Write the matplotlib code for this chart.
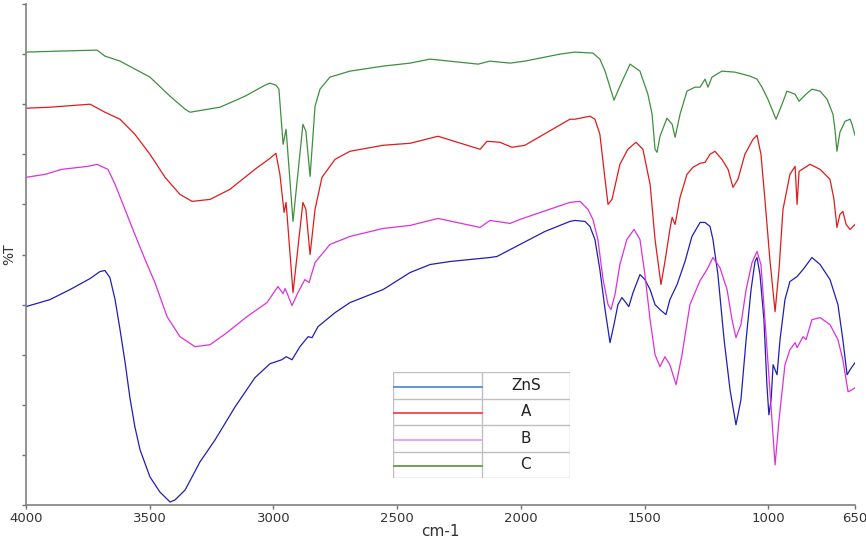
import matplotlib
matplotlib.use("Agg")
import matplotlib.pyplot as plt
import numpy as np

# Datos (numero de onda cm-1, %T)
wn_c = [4000, 3863, 3713, 3681, 3620, 3499, 3418, 3357, 3337, 3216, 3115, 3034, 3014, 2990, 2978,
        2961, 2949, 2921, 2881, 2869, 2852, 2832, 2812, 2772, 2691, 2557, 2448, 2367, 2173, 2125,
        2044, 1984, 1842, 1782, 1709, 1681, 1660, 1624, 1600, 1559, 1519, 1487, 1470, 1458, 1450,
        1438, 1410, 1389, 1377, 1357, 1329, 1297, 1276, 1256, 1244, 1228, 1188, 1135, 1074, 1046,
        1026, 1002, 969, 945, 925, 892, 876, 848, 824, 791, 763, 739, 731, 723, 711, 690, 670, 662, 650]
t_c = [90.4, 90.6, 90.8, 89.6, 88.6, 85.4, 81.6, 79.0, 78.4, 79.4, 81.6, 83.8, 84.2, 83.8, 83.0,
       72.0, 75.0, 56.6, 76.0, 74.6, 65.6, 79.6, 83.0, 85.4, 86.6, 87.6, 88.2, 89.0, 88.0, 88.6,
       88.2, 88.6, 90.0, 90.4, 90.2, 89.0, 86.6, 80.8, 83.6, 88.0, 86.6, 82.0, 78.0, 71.0, 70.4,
       73.6, 77.2, 76.0, 73.4, 78.0, 82.6, 83.4, 83.4, 85.0, 83.4, 85.4, 86.6, 86.4, 85.6, 85.0,
       83.4, 81.0, 77.0, 80.0, 82.6, 82.0, 80.6, 82.0, 83.0, 82.6, 81.0, 78.0, 75.0, 70.6, 74.4,
       76.6, 77.0, 76.0, 73.8]

wn_a = [4000, 3903, 3741, 3681, 3620, 3560, 3499, 3438, 3378, 3329, 3256, 3176, 3075, 3014, 2990,
        2974, 2957, 2949, 2921, 2881, 2869, 2852, 2832, 2804, 2751, 2691, 2557, 2448, 2335, 2165,
        2137, 2085, 2036, 1984, 1802, 1782, 1721, 1701, 1681, 1660, 1648, 1632, 1600, 1568, 1535,
        1507, 1478, 1458, 1434, 1418, 1398, 1389, 1377, 1357, 1329, 1305, 1276, 1256, 1236, 1216,
        1188, 1163, 1143, 1123, 1095, 1062, 1046, 1030, 1014, 994, 973, 957, 941, 913, 892, 884,
        876, 832, 791, 751, 735, 723, 711, 699, 686, 670, 650]
t_a = [79.2, 79.4, 80.0, 78.4, 77.0, 74.0, 70.0, 65.4, 62.0, 60.6, 61.0, 63.0, 67.0, 69.2, 70.2,
       66.0, 58.4, 60.4, 42.4, 60.4, 59.0, 50.0, 59.0, 65.4, 69.0, 70.6, 71.8, 72.2, 73.6, 71.0,
       72.6, 72.4, 71.4, 71.8, 77.0, 77.0, 77.6, 77.0, 74.0, 65.0, 60.0, 61.0, 68.0, 71.0, 72.4,
       71.0, 64.0, 53.0, 44.0, 48.6, 55.0, 57.4, 56.0, 61.4, 66.0, 67.4, 68.2, 68.4, 70.0, 70.6,
       69.0, 67.0, 63.4, 65.0, 70.0, 73.0, 73.8, 70.0, 61.0, 49.0, 38.6, 47.0, 59.0, 66.0, 67.6, 60.0,
       66.6, 68.0, 67.0, 65.0, 61.0, 55.4, 58.0, 58.6, 56.0, 55.0, 56.0]

wn_b = [4000, 3923, 3855, 3749, 3713, 3669, 3640, 3600, 3560, 3519, 3479, 3430, 3378, 3317, 3256,
        3188, 3107, 3026, 2982, 2961, 2953, 2941, 2925, 2901, 2873, 2856, 2832, 2772, 2691, 2557,
        2448, 2335, 2165, 2125, 2044, 2004, 1802, 1761, 1729, 1709, 1689, 1668, 1648, 1636, 1620,
        1600, 1572, 1543, 1519, 1499, 1478, 1458, 1438, 1418, 1398, 1373, 1349, 1317, 1276, 1248,
        1224, 1196, 1167, 1147, 1131, 1111, 1090, 1066, 1046, 1030, 1014, 994, 973, 957, 933, 913,
        892, 884, 860, 848, 824, 791, 751, 719, 699, 678, 662, 650]
t_b = [65.4, 66.0, 67.0, 67.6, 68.0, 67.0, 64.0, 59.0, 54.0, 49.0, 44.4, 37.6, 33.6, 31.6, 32.0,
       34.4, 37.6, 40.4, 43.6, 42.2, 43.2, 41.8, 39.8, 42.4, 45.0, 44.4, 48.4, 52.0, 53.6, 55.2,
       55.8, 57.2, 55.4, 56.8, 56.2, 57.0, 60.4, 60.6, 59.0, 57.0, 53.0, 45.0, 40.0, 39.0, 42.0,
       48.0, 53.0, 55.0, 53.0, 46.0, 37.0, 30.0, 27.6, 29.6, 28.0, 24.0, 30.0, 40.0, 44.8, 47.0,
       49.4, 47.4, 43.0, 37.0, 33.4, 36.0, 43.0, 48.4, 50.6, 48.0, 37.0, 23.0, 8.0, 17.0, 28.0, 31.0,
       32.4, 31.4, 33.6, 33.0, 37.0, 37.4, 36.0, 33.0, 29.0, 22.6, 23.0, 23.4]

wn_zns = [4000, 3903, 3822, 3741, 3701, 3681, 3661, 3640, 3620, 3600, 3580, 3560, 3539, 3499, 3459,
          3418, 3398, 3357, 3297, 3236, 3155, 3075, 3014, 2966, 2949, 2925, 2893, 2860, 2844, 2820,
          2751, 2691, 2557, 2448, 2367, 2287, 2125, 2097, 2004, 1903, 1802, 1782, 1741, 1721, 1701,
          1681, 1660, 1640, 1624, 1608, 1592, 1576, 1564, 1547, 1519, 1499, 1478, 1458, 1438, 1414,
          1398, 1369, 1337, 1309, 1276, 1256, 1236, 1224, 1204, 1179, 1155, 1131, 1111, 1090, 1070,
          1054, 1046, 1034, 1018, 1006, 998, 989, 981, 973, 965, 953, 933, 913, 884, 860, 824, 791,
          751, 719, 699, 682, 670, 650]
t_zns = [39.6, 41.0, 43.0, 45.2, 46.6, 46.8, 45.4, 41.0, 35.0, 28.6, 21.4, 15.6, 11.0, 5.6, 2.6,
         0.6, 1.0, 3.0, 8.6, 13.0, 19.6, 25.4, 28.2, 29.0, 29.6, 29.0, 31.6, 33.6, 33.4, 35.6,
         38.4, 40.4, 43.0, 46.4, 48.0, 48.6, 49.4, 49.6, 52.0, 54.6, 56.6, 56.8, 56.6, 55.6, 53.0,
         47.0, 39.0, 32.4, 36.0, 40.0, 41.4, 40.4, 39.6, 42.4, 46.0, 45.0, 43.0, 40.0, 39.0, 38.0,
         41.0, 44.0, 48.6, 53.6, 56.4, 56.4, 55.6, 53.0, 46.0, 33.0, 23.0, 16.0, 21.0, 33.0, 43.0,
         48.6, 49.4, 46.0, 37.0, 24.0, 18.0, 21.0, 28.0, 27.0, 26.0, 33.0, 41.0, 44.6, 45.6, 47.0,
         49.4, 48.0, 45.0, 40.0, 33.0, 26.0, 27.0, 28.4]

etiquetas = ["ZnS", "A", "B", "C"]
colores = ["#1f1fb4", "#e01b1b", "#dd30dd", "#3f8f3f"]
colores_leyenda = ["#5b9bd5", "#ff4a5a", "#e8a6e8", "#70a050"]
xticks = [4000, 3500, 3000, 2500, 2000, 1500, 1000, 650]


def generar_diagrama():
    fig = plt.figure(figsize=(8.66, 5.42), dpi=100)
    ax = fig.add_axes([26 / 866, 37 / 542, 829 / 866, 501 / 542])

    series = [(wn_zns, t_zns), (wn_a, t_a), (wn_b, t_b), (wn_c, t_c)]
    for (x, y), c in zip(series, colores):
        ax.plot(x, y, color=c, lw=0.9)

    ax.set_xlim(4000, 650)
    ax.set_ylim(0, 100)
    ax.set_xticks(xticks)
    ax.set_yticks(np.arange(0, 101, 10))
    ax.set_yticklabels([])
    ax.tick_params(colors="#707070", labelcolor="#333333", labelsize=9.5, length=3, width=1, pad=2)
    for s in ["top", "right"]:
        ax.spines[s].set_visible(False)
    for s in ["left", "bottom"]:
        ax.spines[s].set_color("#808080")
        ax.spines[s].set_linewidth(1.2)
    ax.set_xlabel("cm-1", fontsize=11, color="#333333", labelpad=-1)
    ax.set_ylabel("%T", fontsize=10, color="#333333", labelpad=2)

    # Leyenda en forma de tabla
    lg = fig.add_axes([393 / 866, (542 - 478) / 542, 177 / 866, 106 / 542])
    lg.set_xlim(0, 1)
    lg.set_ylim(0, 4)
    lg.axis("off")
    gris = "#bfbfbf"
    for i in range(5):
        lg.plot([0, 1], [i, i], color=gris, lw=1)
    lg.plot([0, 0], [0, 4], color=gris, lw=1)
    lg.plot([1, 1], [0, 4], color=gris, lw=1)
    lg.plot([0.5, 0.5], [0, 4], color=gris, lw=1)
    for i, (et, c) in enumerate(zip(etiquetas, colores_leyenda)):
        yy = 4 - i - 0.55
        lg.plot([0, 0.5], [yy, yy], color=c, lw=1.4)
        lg.text(0.75, 4 - i - 0.5, et, ha="center", va="center", fontsize=11, color="#222222")

    plt.savefig("out.png", dpi=100)


if __name__ == "__main__":
    generar_diagrama()
